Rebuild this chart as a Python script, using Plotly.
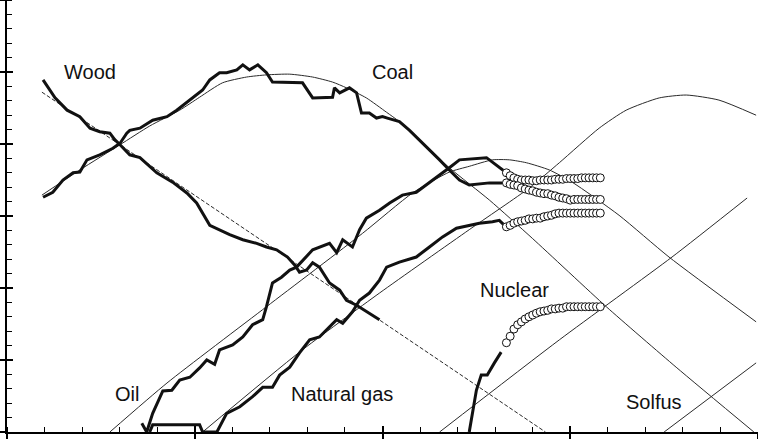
import plotly.graph_objects as go

# ---------------- data (x = year, y = log share units) ----------------
wood_x = [1859.6, 1862.8, 1866.0, 1869.4, 1872.1, 1874.7, 1877.4, 1878.7, 1880.1, 1882.7, 1885.4, 1889.9,
          1894.1, 1897.9, 1900.5, 1904.0, 1909.3, 1912.8, 1916.5, 1919.1, 1921.8, 1924.7, 1926.6, 1927.9,
          1929.8, 1931.4, 1933.2, 1935.9, 1938.6, 1940.4, 1943.1, 1945.7, 1949.2]
wood_y = [1.89, 1.64, 1.47, 1.38, 1.22, 1.17, 1.15, 1.06, 0.99, 0.85, 0.81, 0.60,
          0.47, 0.32, 0.18, -0.13, -0.26, -0.33, -0.38, -0.43, -0.47, -0.57, -0.68, -0.78,
          -0.75, -0.65, -0.71, -0.93, -1.03, -1.17, -1.24, -1.33, -1.44]

coal_x = [1859.6, 1862.2, 1864.9, 1867.6, 1869.4, 1871.3, 1874.7, 1878.2, 1880.1, 1881.9, 1882.7, 1885.4,
          1888.8, 1892.6, 1895.2, 1898.7, 1902.1, 1904.0, 1906.6, 1908.5, 1911.2, 1912.8, 1914.6, 1916.8,
          1918.1, 1919.1, 1920.7, 1922.6, 1927.1, 1928.7, 1931.4, 1933.2, 1936.7, 1937.2, 1938.6, 1941.2,
          1943.1, 1944.4, 1946.5, 1948.4, 1950.0, 1951.3, 1954.5, 1957.2, 1959.8, 1962.5, 1965.2, 1967.8,
          1970.5, 1973.1, 1978.5, 1981.9]
coal_y = [0.26, 0.33, 0.50, 0.60, 0.61, 0.78, 0.85, 0.94, 1.01, 1.15, 1.19, 1.22,
          1.33, 1.38, 1.47, 1.61, 1.75, 1.89, 1.99, 1.99, 2.03, 2.10, 2.03, 2.10,
          2.03, 1.99, 1.86, 1.86, 1.86, 1.85, 1.64, 1.64, 1.65, 1.78, 1.71, 1.78,
          1.71, 1.43, 1.43, 1.36, 1.38, 1.36, 1.31, 1.19, 1.06, 0.92, 0.78, 0.64,
          0.50, 0.43, 0.46, 0.46]

oil_x = [1885.9, 1887.2, 1888.8, 1891.5, 1893.9, 1896.0, 1898.7, 1901.3, 1903.2, 1905.3, 1906.6, 1910.1,
         1912.8, 1915.4, 1918.1, 1919.1, 1920.7, 1923.1, 1925.3, 1927.1, 1931.4, 1935.9, 1937.8, 1939.4,
         1942.0, 1943.9, 1945.7, 1949.2, 1951.9, 1955.3, 1959.0, 1962.5, 1966.0, 1967.8, 1970.5, 1977.7,
         1981.1, 1983.0]
oil_y = [-2.88, -3.0, -2.74, -2.43, -2.42, -2.28, -2.24, -2.11, -2.00, -2.06, -1.86, -1.79,
         -1.68, -1.51, -1.44, -1.26, -0.93, -0.85, -0.75, -0.71, -0.47, -0.38, -0.51, -0.33,
         -0.43, -0.19, -0.03, 0.08, 0.18, 0.29, 0.33, 0.46, 0.60, 0.67, 0.78, 0.81,
         0.68, 0.60]

gas_x = [1888.0, 1888.8, 1901.3, 1902.1, 1905.9, 1908.5, 1912.0, 1915.4, 1918.1, 1920.7, 1922.6, 1925.3,
         1927.9, 1930.6, 1933.2, 1935.9, 1937.8, 1939.4, 1942.0, 1943.9, 1946.5, 1949.2, 1951.1, 1954.5,
         1959.0, 1962.5, 1966.0, 1969.7, 1973.1, 1975.8, 1979.3, 1981.1, 1982.7]
gas_y = [-3.0, -2.90, -2.90, -3.0, -3.0, -2.74, -2.65, -2.51, -2.38, -2.38, -2.21, -2.10,
         -1.90, -1.72, -1.68, -1.54, -1.44, -1.49, -1.33, -1.17, -1.07, -0.89, -0.71, -0.64,
         -0.57, -0.43, -0.29, -0.17, -0.13, -0.10, -0.08, -0.06, -0.14]

nuclear_x = [1973.1, 1975.0, 1976.3, 1977.9, 1979.8, 1981.6]
nuclear_y = [-3.0, -2.42, -2.21, -2.21, -2.04, -1.89]

# projected (circles), one per year
proj_years = list(range(1983, 2009))
oil_proj = [0.60, 0.56, 0.53, 0.51, 0.50, 0.50, 0.50, 0.49, 0.49, 0.50, 0.50, 0.50, 0.50,
            0.51, 0.51, 0.51, 0.52, 0.52, 0.52, 0.52, 0.53, 0.53, 0.53, 0.53, 0.53, 0.53]
coal_proj = [0.46, 0.44, 0.43, 0.42, 0.39, 0.375, 0.36, 0.35, 0.33, 0.32, 0.31, 0.31, 0.29,
             0.28, 0.26, 0.25, 0.24, 0.22, 0.23, 0.23, 0.23, 0.23, 0.23, 0.23, 0.23, 0.23]
gas_proj = [-0.15, -0.13, -0.10, -0.08, -0.07, -0.06, -0.04, -0.04, -0.03, -0.03, -0.01, 0.0, 0.01,
            0.03, 0.04, 0.04, 0.04, 0.04, 0.04, 0.04, 0.04, 0.04, 0.04, 0.04, 0.04, 0.04]
nuclear_proj = [-1.76, -1.67, -1.57, -1.51, -1.47, -1.43, -1.40, -1.375, -1.35, -1.33, -1.32, -1.31, -1.29,
                -1.29, -1.28, -1.28, -1.26, -1.26, -1.26, -1.26, -1.26, -1.26, -1.26, -1.26, -1.26, -1.26]

# fitted substitution curves (thin lines)
wood_fit_x = [1859.3, 1993.4]
wood_fit_y = [1.72, -3.0]
coal_fit_x = [1859.3, 1869.4, 1880.1, 1888.0, 1896.0, 1901.3, 1907.4, 1913.8, 1919.1, 1925.3, 1931.4,
              1936.7, 1940.4, 1945.7, 1951.1, 1954.5, 1967.8, 1978.5, 1989.9, 2009.6, 2028.2, 2048.9]
coal_fit_y = [0.29, 0.64, 0.99, 1.25, 1.47, 1.65, 1.85, 1.93, 1.96, 1.97, 1.93,
              1.86, 1.78, 1.64, 1.44, 1.31, 0.67, 0.22, -0.31, -1.26, -2.10, -3.0]
oil_fit_x = [1877.4, 1892.6, 1919.1, 1944.7, 1958.0, 1967.8, 1973.1, 1979.3, 1983.8, 1988.3, 1994.4,
             2000.5, 2013.0, 2026.3, 2049.5]
oil_fit_y = [-3.0, -2.32, -1.26, -0.24, 0.32, 0.61, 0.69, 0.78, 0.78, 0.74, 0.64,
             0.47, 0.01, -0.57, -1.47]
gas_fit_x = [1902.1, 1927.9, 1949.2, 1973.1, 1989.1, 1997.1, 2007.7, 2014.9, 2023.7, 2030.9, 2039.6, 2049.5]
gas_fit_y = [-3.0, -1.89, -1.07, -0.19, 0.39, 0.74, 1.22, 1.47, 1.64, 1.68, 1.61, 1.40]
nuclear_fit_x = [1965.2, 1997.1, 2027.1, 2047.1]
nuclear_fit_y = [-3.0, -1.72, -0.57, 0.25]
solfus_fit_x = [2025.0, 2049.5]
solfus_fit_y = [-3.0, -2.04]

labels = ["Wood", "Coal", "Oil", "Natural gas", "Nuclear", "Solfus"]
label_x = [1872.1, 1952.7, 1881.9, 1939.1, 1985.1, 2022.3]
label_y = [2.0, 2.0, -2.47, -2.47, -1.03, -2.58]

x_major = [1850, 1900, 1950, 2000, 2050]
y_major = [-3, -2, -1, 0, 1, 2, 3]

# ---------------- figure ----------------
fig = go.Figure()

thin = dict(color="#2a2a2a", width=1)
for fx, fy in [(coal_fit_x, coal_fit_y), (oil_fit_x, oil_fit_y), (gas_fit_x, gas_fit_y),
               (nuclear_fit_x, nuclear_fit_y), (solfus_fit_x, solfus_fit_y)]:
    fig.add_trace(go.Scatter(x=fx, y=fy, mode="lines", line=dict(thin, shape="spline", smoothing=0.6),
                             hoverinfo="skip", showlegend=False))
fig.add_trace(go.Scatter(x=wood_fit_x, y=wood_fit_y, mode="lines",
                         line=dict(color="#2a2a2a", width=1, dash="4px,2px"),
                         hoverinfo="skip", showlegend=False))

thick = dict(color="#111111", width=3)
for dx, dy in [(wood_x, wood_y), (coal_x, coal_y), (oil_x, oil_y), (gas_x, gas_y), (nuclear_x, nuclear_y)]:
    fig.add_trace(go.Scatter(x=dx, y=dy, mode="lines", line=thick, hoverinfo="skip", showlegend=False))

for py in [oil_proj, coal_proj, gas_proj, nuclear_proj]:
    fig.add_trace(go.Scatter(x=proj_years, y=py, mode="markers",
                             marker=dict(symbol="circle", size=8, color="white",
                                         line=dict(color="#111111", width=1)),
                             hoverinfo="skip", showlegend=False))

# dummy trace for the overlay axes (inside halves of the major ticks)
fig.add_trace(go.Scatter(x=[1850], y=[0], xaxis="x2", yaxis="y2", mode="markers",
                         marker=dict(opacity=0), hoverinfo="skip", showlegend=False))

for t, lx, ly in zip(labels, label_x, label_y):
    fig.add_annotation(x=lx, y=ly, text=t, showarrow=False,
                       font=dict(family="Liberation Sans, Arial", size=20, color="#111111"))

fig.update_layout(
    width=758, height=439,
    margin=dict(l=7, r=0, t=0, b=7),
    paper_bgcolor="white", plot_bgcolor="white",
    xaxis=dict(range=[1850, 2050], showgrid=False, zeroline=False, showline=True, linewidth=2,
               linecolor="black", tickvals=x_major, ticks="outside", ticklen=6, tickwidth=1.5,
               tickcolor="black", showticklabels=False,
               minor=dict(dtick=10, ticks="inside", ticklen=5, tickwidth=1, tickcolor="black")),
    yaxis=dict(range=[-3, 3], showgrid=False, zeroline=False, showline=True, linewidth=2,
               linecolor="black", tickvals=y_major, ticks="outside", ticklen=7, tickwidth=1.5,
               tickcolor="black", showticklabels=False,
               minor=dict(dtick=0.2, ticks="inside", ticklen=5, tickwidth=1, tickcolor="black")),
    xaxis2=dict(range=[1850, 2050], overlaying="x", showgrid=False, zeroline=False, showline=False,
                tickvals=x_major, ticks="inside", ticklen=6, tickwidth=1.5, tickcolor="black",
                showticklabels=False),
    yaxis2=dict(range=[-3, 3], overlaying="y", showgrid=False, zeroline=False, showline=False,
                tickvals=y_major, ticks="inside", ticklen=6, tickwidth=1.5, tickcolor="black",
                showticklabels=False),
    showlegend=False,
)

fig.write_html("out.html", config={"displayModeBar": False},
               post_script="document.body.style.margin='0';document.body.style.overflow='hidden';")
